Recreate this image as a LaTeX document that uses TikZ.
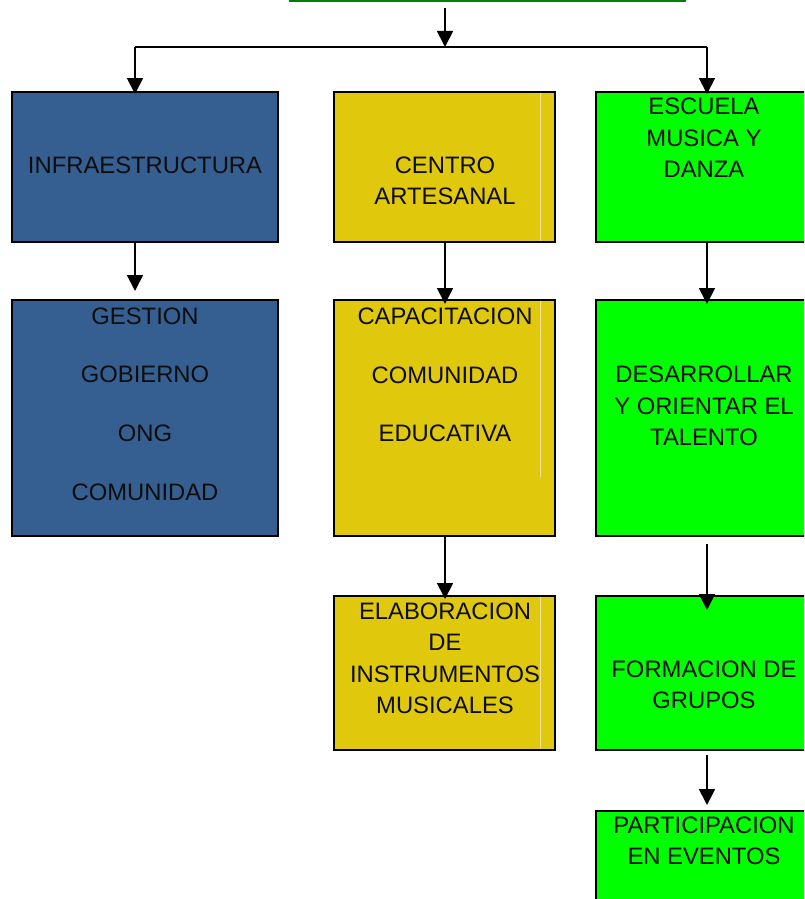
\documentclass[tikz,border=0pt]{standalone}
\usepackage{fontspec}
\setmainfont{Liberation Sans}
\usetikzlibrary{arrows.meta}
\definecolor{boxblue}{RGB}{54,95,145}
\definecolor{boxyellow}{RGB}{224,201,12}
\definecolor{boxgreen}{RGB}{0,255,0}
\definecolor{topgreen}{RGB}{0,128,0}
\definecolor{seam}{RGB}{240,230,150}
\begin{document}
\begin{tikzpicture}[x=1pt,y=-1pt,
  box/.style={draw=black, line width=2pt, rectangle, inner sep=0pt},
  bluebox/.style={box, fill=boxblue},
  yellowbox/.style={box, fill=boxyellow},
  greenbox/.style={box, fill=boxgreen},
  lbl/.style={font=\fontsize{23.8}{31.5}\selectfont, align=center, text=black!95, inner sep=0pt},
  wide/.style={font=\fontsize{23.8}{58.7}\selectfont},
  conn/.style={line width=1.8pt, draw=black},
  arr/.style={conn, -{Triangle[width=16pt,length=16pt]}},
  seamline/.style={draw=seam, line width=0.8pt}
]
\useasboundingbox (0,0) rectangle (804,899);
\clip (0,0) rectangle (804,899);

% top (cut-off) box
\node[minimum width=397pt, minimum height=20pt, inner sep=0pt] (top) at (487.5,-9) {};
\draw[topgreen, line width=2.5pt] (top.south west) -- (top.south east);

% boxes
\node[bluebox, minimum width=266pt, minimum height=150pt] (infra) at (145,167) {};
\node[yellowbox, minimum width=221pt, minimum height=150pt] (centro) at (444.5,167) {};
\node[greenbox, minimum width=234pt, minimum height=150pt] (escuela) at (713,167) {};
\node[bluebox, minimum width=266pt, minimum height=236pt] (gestion) at (145,418) {};
\node[yellowbox, minimum width=221pt, minimum height=236pt] (capac) at (444.5,418) {};
\node[greenbox, minimum width=234pt, minimum height=236pt] (desarr) at (713,418) {};
\node[yellowbox, minimum width=221pt, minimum height=154pt] (elab) at (444.5,673) {};
\node[greenbox, minimum width=234pt, minimum height=154pt] (formac) at (713,673) {};
\node[greenbox, minimum width=234pt, minimum height=118pt] (partic) at (713,870) {};

% light seams in yellow boxes
\draw[seamline] (540.5,93) -- (540.5,241);
\draw[seamline] (540.5,301) -- (540.5,477);
\draw[seamline] (540.5,597) -- (540.5,749);

% connectors
\coordinate (split) at (445,47);
\coordinate (lft) at (135,47);
\coordinate (rgt) at (707,47);
\draw[arr, shorten <=7pt] (split |- top.south) -- (split);
\draw[conn] (lft) -- (rgt);
\draw[arr, shorten >=-3pt] (lft) -- (lft |- infra.north);
\draw[arr, shorten >=-3pt] (rgt) -- (rgt |- escuela.north);
\draw[arr, shorten >=8pt] (lft |- infra.south) -- (lft |- gestion.north);
\draw[arr, shorten >=-5pt] (split |- centro.south) -- (split |- capac.north);
\draw[arr, shorten >=-5pt] (rgt |- escuela.south) -- (rgt |- desarr.north);
\draw[arr, shorten >=-4pt] (split |- capac.south) -- (split |- elab.north);
\draw[arr, shorten <=7pt, shorten >=-15pt] (rgt |- desarr.south) -- (rgt |- formac.north);
\draw[arr, shorten <=4pt, shorten >=5pt] (rgt |- formac.south) -- (rgt |- partic.north);

% labels
\node[lbl] (t-infra) at (145,165) {INFRAESTRUCTURA};
\node[lbl] (t-centro) at (445,181) {CENTRO\\ARTESANAL};
\node[lbl] (t-escuela) at (704,138) {ESCUELA\\MUSICA Y\\DANZA};
\node[lbl, wide] (t-gestion) at (145,404) {GESTION\\GOBIERNO\\ONG\\COMUNIDAD};
\node[lbl, wide] (t-capac) at (445,375) {CAPACITACION\\COMUNIDAD\\EDUCATIVA};
\node[lbl] (t-desarr) at (704,406) {DESARROLLAR\\Y ORIENTAR EL\\TALENTO};
\node[lbl] (t-elab) at (445,658.5) {ELABORACION\\DE\\INSTRUMENTOS\\MUSICALES};
\node[lbl] (t-formac) at (704,685) {FORMACION DE\\GRUPOS};
\node[lbl] (t-partic) at (704,841) {PARTICIPACION\\EN EVENTOS};
\end{tikzpicture}
\end{document}
